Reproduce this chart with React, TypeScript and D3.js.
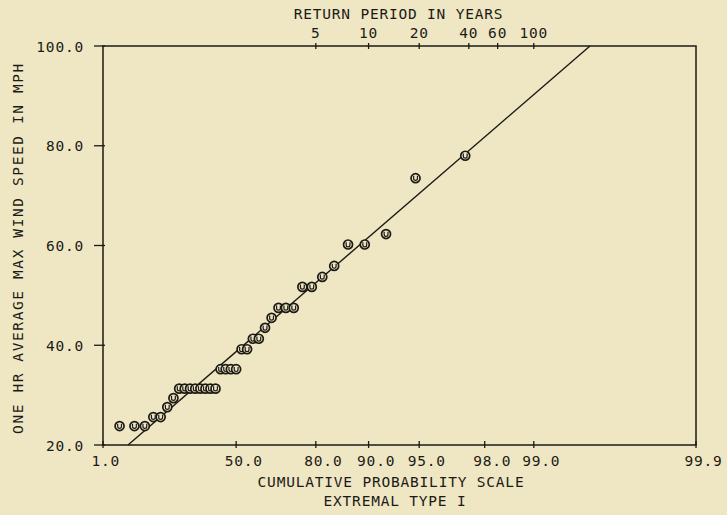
import React from "react";
import * as d3 from "d3";

// Cumulative probability (percent) of each ranked observation
const probPct = [
  2.63, 5.26, 7.89, 10.53, 13.16, 15.79, 18.42, 21.05, 23.68, 26.32, 28.95, 31.58,
  34.21, 36.84, 39.47, 42.11, 44.74, 47.37, 50.0, 52.63, 55.26, 57.89, 60.53, 63.16,
  65.79, 68.42, 71.05, 73.68, 76.32, 78.95, 81.58, 84.21, 86.84, 89.47, 92.11, 94.74,
  97.37,
];
// One hour average max wind speed (mph)
const windSpeed = [
  23.8, 23.8, 23.8, 25.6, 25.6, 27.6, 29.4, 31.3, 31.3, 31.3, 31.3, 31.3, 31.3, 31.3,
  31.3, 35.2, 35.2, 35.2, 35.2, 39.2, 39.2, 41.3, 41.3, 43.5, 45.5, 47.5, 47.5, 47.5,
  51.7, 51.7, 53.7, 55.9, 60.2, 60.2, 62.3, 73.5, 78.0,
];
// Fitted extremal type I line (end points)
const fitProbPct = [3.97, 99.549];
const fitSpeed = [20, 100];

const xTickPct = [1.0, 50.0, 80.0, 90.0, 95.0, 98.0, 99.0, 99.9];
const xTickLabels = ["1.0", "50.0", "80.0", "90.0", "95.0", "98.0", "99.0", "99.9"];
const returnPeriods = [5, 10, 20, 40, 60, 100];
const yTicks = [20, 40, 60, 80, 100];

const gumbel = (pct: number) => -Math.log(-Math.log(pct / 100));

const W = 727;
const H = 515;
const L = 103;
const R = 696;
const T = 46;
const B = 445;
const INK = "#1c1a16";
const BG = "#efe7c3";
const FONT = "'DejaVu Sans Mono', monospace";

export default function App() {
  const x = d3.scaleLinear().domain([gumbel(1.0), gumbel(99.9)]).range([L, R]);
  const y = d3.scaleLinear().domain([20, 100]).range([B, T]);
  const px = (pct: number) => x(gumbel(pct));

  const line = d3
    .line<number>()
    .x((_, i) => px(fitProbPct[i]))
    .y((d) => y(d));

  const textStyle = {
    fontFamily: FONT,
    fontSize: 14.5,
    letterSpacing: 0.8,
    fill: INK,
  } as React.CSSProperties;

  return (
    <svg
      width={W}
      height={H}
      style={{ position: "absolute", left: 0, top: 0, display: "block", background: BG }}
    >
      <rect x={0} y={0} width={W} height={H} fill={BG} />
      {/* frame */}
      <rect x={L} y={T} width={R - L} height={B - T} fill="none" stroke={INK} strokeWidth={1.5} />

      {/* y ticks */}
      {yTicks.map((v) => (
        <g key={"y" + v}>
          <line x1={L - 9} x2={L + 2} y1={y(v)} y2={y(v)} stroke={INK} strokeWidth={1.3} />
          <text x={84} y={y(v) + 5.5} textAnchor="end" style={textStyle}>
            {v.toFixed(1)}
          </text>
        </g>
      ))}

      {/* bottom ticks */}
      {xTickPct.map((p, i) => (
        <g key={"x" + p}>
          <line x1={px(p)} x2={px(p)} y1={B - 4} y2={B + 3} stroke={INK} strokeWidth={1.3} />
          <text x={px(p) - 11.5} y={466} style={textStyle}>
            {xTickLabels[i]}
          </text>
        </g>
      ))}

      {/* top ticks: return period */}
      {returnPeriods.map((t) => {
        const xp = px(100 * (1 - 1 / t));
        return (
          <g key={"t" + t}>
            <line x1={xp} x2={xp} y1={T - 3} y2={T + 3} stroke={INK} strokeWidth={1.3} />
            <text x={xp} y={37.5} textAnchor="middle" style={textStyle}>
              {String(t)}
            </text>
          </g>
        );
      })}

      {/* titles */}
      <text x={398.5} y={18.5} textAnchor="middle" style={textStyle}>
        RETURN PERIOD IN YEARS
      </text>
      <text x={391} y={486.5} textAnchor="middle" style={textStyle}>
        CUMULATIVE PROBABILITY SCALE
      </text>
      <text x={395} y={505.5} textAnchor="middle" style={textStyle}>
        EXTREMAL TYPE I
      </text>
      <text
        transform={`translate(23,248) rotate(-90)`}
        textAnchor="middle"
        style={{ ...textStyle, letterSpacing: 1.6 }}
      >
        ONE HR AVERAGE MAX WIND SPEED IN MPH
      </text>

      {/* fitted line */}
      <path d={line(fitSpeed) || ""} fill="none" stroke={INK} strokeWidth={1.4} />

      {/* observations */}
      {windSpeed.map((v, i) => {
        const cx = px(probPct[i]);
        const cy = y(v);
        return (
          <g key={"p" + i} transform={`translate(${cx},${cy})`}>
            <circle r={4.5} fill={BG} stroke={INK} strokeWidth={1.7} />
            <path d="M-1.9,-2.3 L-1.9,0.4 A1.9,1.9 0 0 0 1.9,0.4 L1.9,-2.3" fill="none" stroke={INK} strokeWidth={1.2} />
          </g>
        );
      })}
    </svg>
  );
}
